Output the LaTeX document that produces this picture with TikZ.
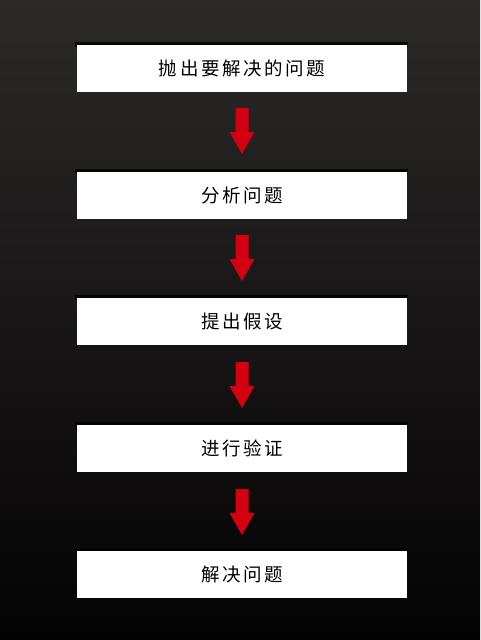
\documentclass[tikz,border=0pt]{standalone}
\usepackage{fontspec}
\usetikzlibrary{calc}
\newfontfamily\cjk[LetterSpace=14]{Noto Sans CJK SC}
\definecolor{bgtop}{RGB}{44,41,41}
\definecolor{bgbot}{RGB}{4,3,3}
\definecolor{arrowred}{RGB}{212,0,18}
\tikzset{
  stepbox/.style={fill=white, draw=none, minimum width=330pt, minimum height=47pt, inner sep=0pt,
    font=\cjk\fontsize{18.5pt}{20pt}\selectfont, text=black},
}
\begin{document}
\begin{tikzpicture}[x=1pt,y=-1pt]
\shade[top color=bgtop, bottom color=bgbot] (0,0) rectangle (480,640);
\useasboundingbox (0,0) rectangle (480,640);
\foreach \i/\t in {0/抛出要解决的问题,1/分析问题,2/提出假设,3/进行验证,4/解决问题}{
  \pgfmathsetmacro{\cy}{68.5+126.6*\i}
  \fill[black, opacity=0.8] (75,\cy-26.5) rectangle (408,\cy-22);
  \node[stepbox] (b\i) at (242,\cy) {\t};
}
\foreach \i in {0,1,2,3}{
  \pgfmathsetmacro{\ay}{108+127*\i}
  \coordinate (a\i) at (242,\ay);
  \fill[arrowred] ($(a\i)+(-6.5,0)$) -- ++(13,0) -- ++(0,24) -- ++(6,0) -- ($(a\i)+(0,46)$) -- ($(a\i)+(-12.5,24)$) -- ++(6,0) -- cycle;
}
\end{tikzpicture}
\end{document}
